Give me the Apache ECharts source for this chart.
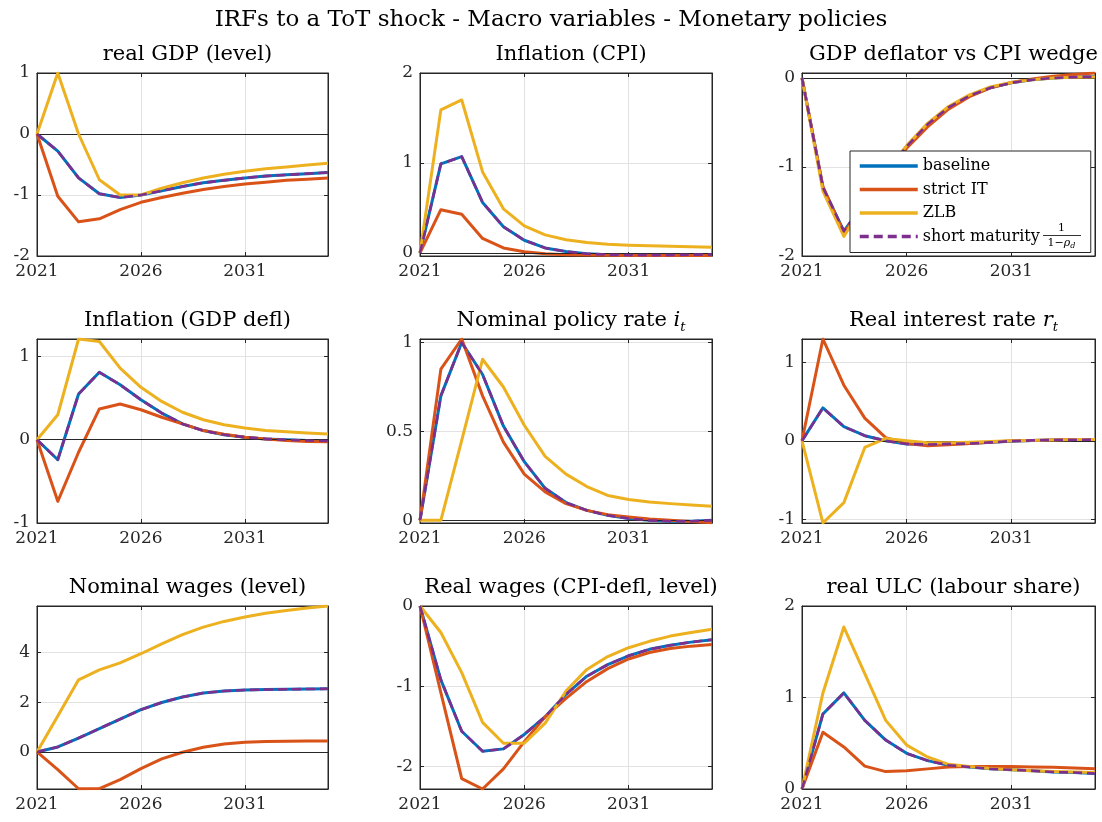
<!DOCTYPE html>
<html>
<head>
<meta charset="utf-8">
<script src="https://cdn.jsdelivr.net/npm/echarts@6/dist/echarts.min.js"></script>
<style>
  html, body { margin: 0; padding: 0; background: #ffffff; }
  #chart { width: 1102px; height: 822px; }
</style>
</head>
<body>
<div id="chart"></div>
<script>
// Horizon of the impulse responses (annual)
const years = [2021, 2022, 2023, 2024, 2025, 2026, 2027, 2028, 2029, 2030, 2031, 2032, 2033, 2034, 2035];
const xTicks = [2021, 2026, 2031];
const seriesNames = ['baseline', 'strict IT', 'ZLB', 'short maturity'];

// real GDP (level)
const gdpBaseline = [0, -0.28, -0.72, -0.98, -1.04, -1.00, -0.93, -0.86, -0.80, -0.76, -0.72, -0.69, -0.67, -0.65, -0.63];
const gdpStrict   = [0, -1.02, -1.44, -1.39, -1.24, -1.12, -1.04, -0.97, -0.91, -0.86, -0.82, -0.79, -0.76, -0.74, -0.72];
const gdpZlb      = [0, 1.00, 0.00, -0.75, -1.00, -1.00, -0.89, -0.80, -0.72, -0.66, -0.61, -0.57, -0.54, -0.51, -0.48];
const gdpShort    = [0, -0.28, -0.72, -0.98, -1.04, -1.00, -0.93, -0.86, -0.80, -0.76, -0.72, -0.69, -0.67, -0.65, -0.63];
const gdpTicks = [-2, -1, 0, 1];

// Inflation (CPI)
const cpiBaseline = [0, 0.99, 1.07, 0.56, 0.29, 0.14, 0.055, 0.015, -0.01, -0.02, -0.025, -0.025, -0.025, -0.02, -0.02];
const cpiStrict   = [0, 0.48, 0.43, 0.16, 0.055, 0.012, -0.01, -0.02, -0.025, -0.028, -0.03, -0.03, -0.03, -0.03, -0.03];
const cpiZlb      = [0, 1.59, 1.70, 0.90, 0.49, 0.30, 0.20, 0.145, 0.115, 0.097, 0.085, 0.078, 0.073, 0.067, 0.063];
const cpiShort    = [0, 0.99, 1.07, 0.56, 0.29, 0.14, 0.055, 0.015, -0.01, -0.02, -0.025, -0.025, -0.025, -0.02, -0.02];
const cpiTicks = [0, 1, 2];

// GDP deflator vs CPI wedge
const wedgeBaseline = [0, -1.23, -1.72, -1.40, -1.06, -0.77, -0.52, -0.33, -0.20, -0.11, -0.055, -0.02, 0, 0.01, 0.015];
const wedgeStrict   = [0, -1.22, -1.74, -1.42, -1.08, -0.79, -0.55, -0.35, -0.21, -0.11, -0.05, -0.01, 0.02, 0.04, 0.056];
const wedgeZlb      = [0, -1.27, -1.78, -1.40, -1.05, -0.76, -0.51, -0.32, -0.19, -0.10, -0.05, -0.02, 0, 0.008, 0.012];
const wedgeShort    = [0, -1.23, -1.72, -1.40, -1.06, -0.77, -0.52, -0.33, -0.20, -0.11, -0.055, -0.02, 0, 0.01, 0.015];
const wedgeTicks = [-2, -1, 0];

// Inflation (GDP deflator)
const deflBaseline = [0, -0.24, 0.55, 0.81, 0.66, 0.48, 0.32, 0.19, 0.11, 0.06, 0.03, 0.01, 0, -0.01, -0.015];
const deflStrict   = [0, -0.74, -0.15, 0.37, 0.43, 0.36, 0.27, 0.19, 0.11, 0.065, 0.03, 0.01, -0.01, -0.02, -0.025];
const deflZlb      = [0, 0.30, 1.21, 1.18, 0.86, 0.63, 0.46, 0.33, 0.24, 0.18, 0.14, 0.11, 0.095, 0.08, 0.07];
const deflShort    = [0, -0.24, 0.55, 0.81, 0.66, 0.48, 0.32, 0.19, 0.11, 0.06, 0.03, 0.01, 0, -0.01, -0.015];
const deflTicks = [-1, 0, 1];

// Nominal policy rate
const policyBaseline = [0, 0.70, 1.00, 0.82, 0.53, 0.33, 0.18, 0.10, 0.056, 0.028, 0.01, 0, -0.005, -0.005, 0];
const policyStrict   = [0, 0.85, 1.02, 0.70, 0.44, 0.26, 0.16, 0.094, 0.056, 0.032, 0.019, 0.008, 0, -0.006, -0.013];
const policyZlb      = [0, 0, 0.45, 0.906, 0.75, 0.535, 0.36, 0.26, 0.19, 0.14, 0.117, 0.103, 0.094, 0.086, 0.079];
const policyShort    = [0, 0.70, 1.00, 0.82, 0.53, 0.33, 0.18, 0.10, 0.056, 0.028, 0.01, 0, -0.005, -0.005, 0];
const policyTicks = [0, 0.5, 1];

// Real interest rate
const realRateBaseline = [0, 0.42, 0.18, 0.065, 0, -0.04, -0.047, -0.04, -0.035, -0.02, -0.005, 0.005, 0.01, 0.013, 0.015];
const realRateStrict   = [0, 1.30, 0.71, 0.29, 0.04, -0.035, -0.065, -0.05, -0.035, -0.02, 0, 0.005, 0.01, 0.015, 0.015];
const realRateZlb      = [0, -1.05, -0.79, -0.085, 0.03, 0, -0.025, -0.025, -0.02, -0.01, 0, 0.005, 0.01, 0.015, 0.015];
const realRateShort    = [0, 0.42, 0.18, 0.065, 0, -0.04, -0.047, -0.04, -0.035, -0.02, -0.005, 0.005, 0.01, 0.013, 0.015];
const realRateTicks = [-1, 0, 1];

// Nominal wages (level)
const nomWageBaseline = [0, 0.20, 0.56, 0.94, 1.32, 1.70, 1.99, 2.21, 2.37, 2.45, 2.49, 2.51, 2.52, 2.53, 2.54];
const nomWageStrict   = [0, -0.71, -1.48, -1.47, -1.11, -0.67, -0.28, -0.01, 0.19, 0.32, 0.39, 0.42, 0.43, 0.44, 0.44];
const nomWageZlb      = [0, 1.45, 2.90, 3.30, 3.58, 3.95, 4.35, 4.72, 5.02, 5.25, 5.43, 5.58, 5.69, 5.79, 5.87];
const nomWageShort    = [0, 0.20, 0.56, 0.94, 1.32, 1.70, 1.99, 2.21, 2.37, 2.45, 2.49, 2.51, 2.52, 2.53, 2.54];
const nomWageTicks = [0, 2, 4];

// Real wages (CPI-deflated, level)
const realWageBaseline = [0, -0.92, -1.56, -1.81, -1.78, -1.60, -1.38, -1.10, -0.875, -0.73, -0.62, -0.54, -0.49, -0.45, -0.42];
const realWageStrict   = [0, -1.08, -2.15, -2.28, -2.03, -1.69, -1.38, -1.15, -0.94, -0.78, -0.66, -0.58, -0.53, -0.50, -0.48];
const realWageZlb      = [0, -0.33, -0.83, -1.45, -1.71, -1.71, -1.46, -1.06, -0.79, -0.63, -0.52, -0.44, -0.375, -0.33, -0.29];
const realWageShort    = [0, -0.92, -1.56, -1.81, -1.78, -1.60, -1.38, -1.10, -0.875, -0.73, -0.62, -0.54, -0.49, -0.45, -0.42];
const realWageTicks = [-2, -1, 0];

// real ULC (labour share)
const ulcBaseline = [0, 0.82, 1.05, 0.75, 0.535, 0.39, 0.31, 0.26, 0.24, 0.22, 0.21, 0.20, 0.185, 0.18, 0.17];
const ulcStrict   = [0, 0.62, 0.46, 0.25, 0.19, 0.20, 0.22, 0.24, 0.245, 0.245, 0.245, 0.24, 0.237, 0.23, 0.22];
const ulcZlb      = [0, 1.05, 1.77, 1.26, 0.75, 0.48, 0.35, 0.27, 0.245, 0.225, 0.21, 0.20, 0.19, 0.185, 0.18];
const ulcShort    = [0, 0.82, 1.05, 0.75, 0.535, 0.39, 0.31, 0.26, 0.24, 0.22, 0.21, 0.20, 0.185, 0.18, 0.17];
const ulcTicks = [0, 1, 2];

// ---- panel definitions (axis limits are tight around each panel's data) ----
const panels = [
  { title: 'real GDP (level)', lines: [gdpBaseline, gdpStrict, gdpZlb, gdpShort], yMin: -2, yMax: 1, yTicks: gdpTicks },
  { title: 'Inflation (CPI)', lines: [cpiBaseline, cpiStrict, cpiZlb, cpiShort], yMin: -0.035, yMax: 2, yTicks: cpiTicks },
  { title: 'GDP deflator vs CPI wedge', lines: [wedgeBaseline, wedgeStrict, wedgeZlb, wedgeShort], yMin: -2, yMax: 0.056, yTicks: wedgeTicks },
  { title: 'Inflation (GDP defl)', lines: [deflBaseline, deflStrict, deflZlb, deflShort], yMin: -1, yMax: 1.21, yTicks: deflTicks },
  { title: 'Nominal policy rate {v|i}{s|t}', lines: [policyBaseline, policyStrict, policyZlb, policyShort], yMin: -0.015, yMax: 1.02, yTicks: policyTicks },
  { title: 'Real interest rate {v|r}{s|t}', lines: [realRateBaseline, realRateStrict, realRateZlb, realRateShort], yMin: -1.05, yMax: 1.3, yTicks: realRateTicks },
  { title: 'Nominal wages (level)', lines: [nomWageBaseline, nomWageStrict, nomWageZlb, nomWageShort], yMin: -1.49, yMax: 5.87, yTicks: nomWageTicks },
  { title: 'Real wages (CPI-defl, level)', lines: [realWageBaseline, realWageStrict, realWageZlb, realWageShort], yMin: -2.28, yMax: 0, yTicks: realWageTicks },
  { title: 'real ULC (labour share)', lines: [ulcBaseline, ulcStrict, ulcZlb, ulcShort], yMin: 0, yMax: 2, yTicks: ulcTicks }
];

// ---- layout & style ----
const FONT = '"DejaVu Serif", serif';
const INK = '#262626';
const GRIDLINE = '#e2e2e2';
const lineColors = ['#0072BD', '#D95319', '#EDB120', '#7E2F8E'];
const colLeft = [37, 420, 802];
const colWidth = [291, 292, 293];
const rowTop = [73, 339, 606];
const rowHeight = [183, 184, 183];
const titleTop = [37, 303, 570];

const grids = [], xAxes = [], yAxes = [], titles = [], series = [];

titles.push({
  text: 'IRFs to a ToT shock - Macro variables - Monetary policies',
  left: 'center', top: 4,
  textStyle: { fontFamily: FONT, fontSize: 23, fontWeight: 'normal', color: '#000' }
});

panels.forEach((p, i) => {
  const col = i % 3, row = Math.floor(i / 3);
  grids.push({
    left: colLeft[col], top: rowTop[row], width: colWidth[col], height: rowHeight[row],
    show: true, borderColor: INK, borderWidth: 1, backgroundColor: 'transparent'
  });

  titles.push({
    text: p.title,
    left: colLeft[col] + colWidth[col] / 2, top: titleTop[row], textAlign: 'center',
    textStyle: {
      fontFamily: FONT, fontSize: 21, fontWeight: 'normal', color: '#000', lineHeight: 26,
      rich: {
        v: { fontFamily: FONT, fontSize: 21, fontStyle: 'italic', color: '#000', lineHeight: 26 },
        s: { fontFamily: FONT, fontSize: 13, fontStyle: 'italic', color: '#000', verticalAlign: 'bottom', lineHeight: 14 }
      }
    }
  });

  // bottom / top x axes
  xAxes.push({
    type: 'value', gridIndex: i, min: 2021, max: 2035, position: 'bottom',
    axisLine: { show: true, onZero: false, lineStyle: { color: INK, width: 1 } },
    axisTick: { show: true, inside: true, length: 4, customValues: xTicks, lineStyle: { color: INK } },
    axisLabel: { show: true, customValues: xTicks, formatter: v => String(v), color: INK, fontFamily: FONT, fontSize: 17, margin: 7 },
    splitLine: { show: true, lineStyle: { color: GRIDLINE, width: 1 } }
  });
  xAxes.push({
    type: 'value', gridIndex: i, min: 2021, max: 2035, position: 'top',
    axisLine: { show: true, onZero: false, lineStyle: { color: INK, width: 1 } },
    axisTick: { show: true, inside: true, length: 4, customValues: xTicks, lineStyle: { color: INK } },
    axisLabel: { show: false }, splitLine: { show: false }
  });

  // left / right y axes
  yAxes.push({
    type: 'value', gridIndex: i, min: p.yMin, max: p.yMax, position: 'left',
    axisLine: { show: true, onZero: false, lineStyle: { color: INK, width: 1 } },
    axisTick: { show: true, inside: true, length: 4, customValues: p.yTicks, lineStyle: { color: INK } },
    axisLabel: { show: true, customValues: p.yTicks, formatter: v => String(v), color: INK, fontFamily: FONT, fontSize: 17, margin: 7 },
    splitLine: { show: true, lineStyle: { color: GRIDLINE, width: 1 } }
  });
  yAxes.push({
    type: 'value', gridIndex: i, min: p.yMin, max: p.yMax, position: 'right',
    axisLine: { show: true, onZero: false, lineStyle: { color: INK, width: 1 } },
    axisTick: { show: true, inside: true, length: 4, customValues: p.yTicks, lineStyle: { color: INK } },
    axisLabel: { show: false }, splitLine: { show: false }
  });

  p.lines.forEach((vals, k) => {
    const s = {
      type: 'line', name: seriesNames[k],
      xAxisIndex: 2 * i, yAxisIndex: 2 * i,
      data: years.map((yr, j) => [yr, vals[j]]),
      symbol: 'none', showSymbol: false, clip: true,
      color: lineColors[k],
      lineStyle: { color: lineColors[k], width: k === 3 ? 2.6 : 3, type: k === 3 ? [9, 5] : 'solid', cap: 'butt', join: 'round' },
      emphasis: { disabled: true }, z: 3 + k
    };
    if (k === 0) {
      // horizontal reference line at zero
      s.markLine = {
        silent: true, symbol: 'none', label: { show: false }, animation: false,
        lineStyle: { color: INK, width: 1, type: 'solid' },
        emphasis: { disabled: true },
        data: [{ yAxis: 0 }]
      };
    }
    series.push(s);
  });
});

const option = {
  animation: false,
  backgroundColor: '#ffffff',
  title: titles,
  grid: grids,
  xAxis: xAxes,
  yAxis: yAxes,
  series: series,
  legend: {
    show: true, orient: 'vertical', left: 850, top: 151, z: 20,
    padding: [7, 8, 8, 8], itemWidth: 58, itemHeight: 14, itemGap: 7.5,
    backgroundColor: '#ffffff', borderColor: INK, borderWidth: 1, borderRadius: 0,
    data: seriesNames,
    lineStyle: { width: 3.5 },
    itemStyle: { opacity: 0 },
    selectedMode: false,
    formatter: name => '{t|' + name + '}',
    textStyle: {
      fontFamily: FONT, fontSize: 16, color: '#000',
      rich: { t: { fontFamily: FONT, fontSize: 16, color: '#000', width: 160, lineHeight: 16 } }
    }
  },
  graphic: [
    { type: 'text', z: 100, x: 1061.5, y: 228,
      style: { text: '1', font: '11px "DejaVu Serif", serif', fill: '#000', textAlign: 'center', textVerticalAlign: 'middle' } },
    { type: 'line', z: 100, shape: { x1: 1043, y1: 235.5, x2: 1081, y2: 235.5 },
      style: { stroke: '#000', lineWidth: 0.8 } },
    { type: 'text', z: 100, x: 1061.5, y: 243,
      style: {
        text: '{a|1−}{r|ρ}{d|d}', fill: '#000', textAlign: 'center', textVerticalAlign: 'middle',
        rich: {
          a: { fontFamily: FONT, fontSize: 11, fill: '#000', lineHeight: 14 },
          r: { fontFamily: FONT, fontSize: 11, fontStyle: 'italic', fill: '#000', lineHeight: 14 },
          d: { fontFamily: FONT, fontSize: 8, fontStyle: 'italic', fill: '#000', verticalAlign: 'bottom', lineHeight: 9 }
        }
      } }
  ]
};

const chart = echarts.init(document.getElementById('chart'), null, { renderer: 'canvas' });
chart.setOption(option);
</script>
</body>
</html>
